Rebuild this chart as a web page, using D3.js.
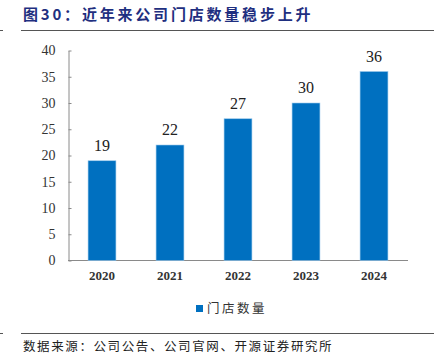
<!DOCTYPE html>
<html>
<head>
<meta charset="utf-8">
<script src="https://cdn.jsdelivr.net/npm/d3@7"></script>
<style>
  body { margin: 0; background: #fff; }
  svg text { font-family: "Liberation Serif", "Noto Sans CJK SC", serif; }
</style>
</head>
<body>
<div id="node"></div>
<script>
// chart data
const years = ["2020", "2021", "2022", "2023", "2024"];
const stores = [19, 22, 27, 30, 36];
const yTicks = [0, 5, 10, 15, 20, 25, 30, 35, 40];
const seriesName = "门店数量";
const titleText = "图30：近年来公司门店数量稳步上升";
const sourceText = "数据来源：公司公告、公司官网、开源证券研究所";

const W = 434, H = 358;
const svg = d3.select("#node").append("svg")
    .attr("width", W).attr("height", H);

// title + rules
svg.append("text")
    .attr("x", 23).attr("y", 20)
    .attr("fill", "#1F2F80")
    .attr("font-size", 15).attr("font-weight", "bold")
    .attr("letter-spacing", 2.8)
    .style("font-family", "'Noto Sans CJK SC', sans-serif")
    .text(titleText);
svg.append("line").attr("x1", 21).attr("x2", W).attr("y1", 30.5).attr("y2", 30.5)
    .attr("stroke", "#555").attr("stroke-width", 1);
svg.append("line").attr("x1", 0).attr("x2", 3).attr("y1", 30.5).attr("y2", 30.5)
    .attr("stroke", "#555");
svg.append("line").attr("x1", 21).attr("x2", W).attr("y1", 333.5).attr("y2", 333.5)
    .attr("stroke", "#555").attr("stroke-width", 1);
svg.append("line").attr("x1", 0).attr("x2", 3).attr("y1", 333.5).attr("y2", 333.5)
    .attr("stroke", "#555");
svg.append("text")
    .attr("x", 23).attr("y", 351)
    .attr("fill", "#222")
    .attr("font-size", 12.5)
    .attr("letter-spacing", 1.6)
    .style("font-family", "'Noto Sans CJK SC', sans-serif")
    .text(sourceText);

// scales
const x = d3.scaleBand().domain(years).range([68, 408]).paddingInner(0.59).paddingOuter(0.295);
const y = d3.scaleLinear().domain([0, 40]).range([260.5, 50.5]);

// y axis
const yAxis = svg.append("g")
    .attr("transform", "translate(68.5,0)")
    .call(d3.axisLeft(y).tickValues(yTicks).tickSize(0).tickPadding(13));
yAxis.select(".domain").attr("stroke", "#8a8a8a");
yAxis.selectAll(".tick text").attr("font-size", 14).attr("fill", "#333");
yAxis.selectAll(".tick").append("line")
    .attr("x1", 0).attr("x2", 3).attr("stroke", "#8a8a8a");

// x axis
const xAxis = svg.append("g")
    .attr("transform", "translate(0,260.5)")
    .call(d3.axisBottom(x).tickSize(0).tickPadding(10));
xAxis.select(".domain").attr("stroke", "#8a8a8a").attr("d", "M68,0H408");
xAxis.selectAll(".tick text").attr("font-size", 13).attr("font-weight", "bold").attr("fill", "#333");

// bars
svg.append("g").selectAll("rect")
    .data(stores)
    .enter()
    .append("rect")
    .attr("x", (d, i) => x(years[i]))
    .attr("y", d => y(d))
    .attr("width", x.bandwidth())
    .attr("height", d => y(0) - y(d))
    .attr("fill", "#0070C0")
    .attr("stroke", "#9cc9ec")
    .attr("stroke-width", 0.6);

// value labels
svg.append("g").selectAll("text")
    .data(stores)
    .enter()
    .append("text")
    .attr("x", (d, i) => x(years[i]) + x.bandwidth() / 2)
    .attr("y", d => y(d) - 10)
    .attr("text-anchor", "middle")
    .attr("font-size", 16)
    .attr("fill", "#222")
    .text(d => d);

// legend
svg.append("rect").attr("x", 196).attr("y", 305).attr("width", 7).attr("height", 7).attr("fill", "#0070C0");
svg.append("text")
    .attr("x", 207).attr("y", 313)
    .attr("font-size", 12.5)
    .attr("letter-spacing", 2.5)
    .attr("fill", "#333")
    .style("font-family", "'Noto Sans CJK SC', sans-serif")
    .text(seriesName);
</script>
</body>
</html>
